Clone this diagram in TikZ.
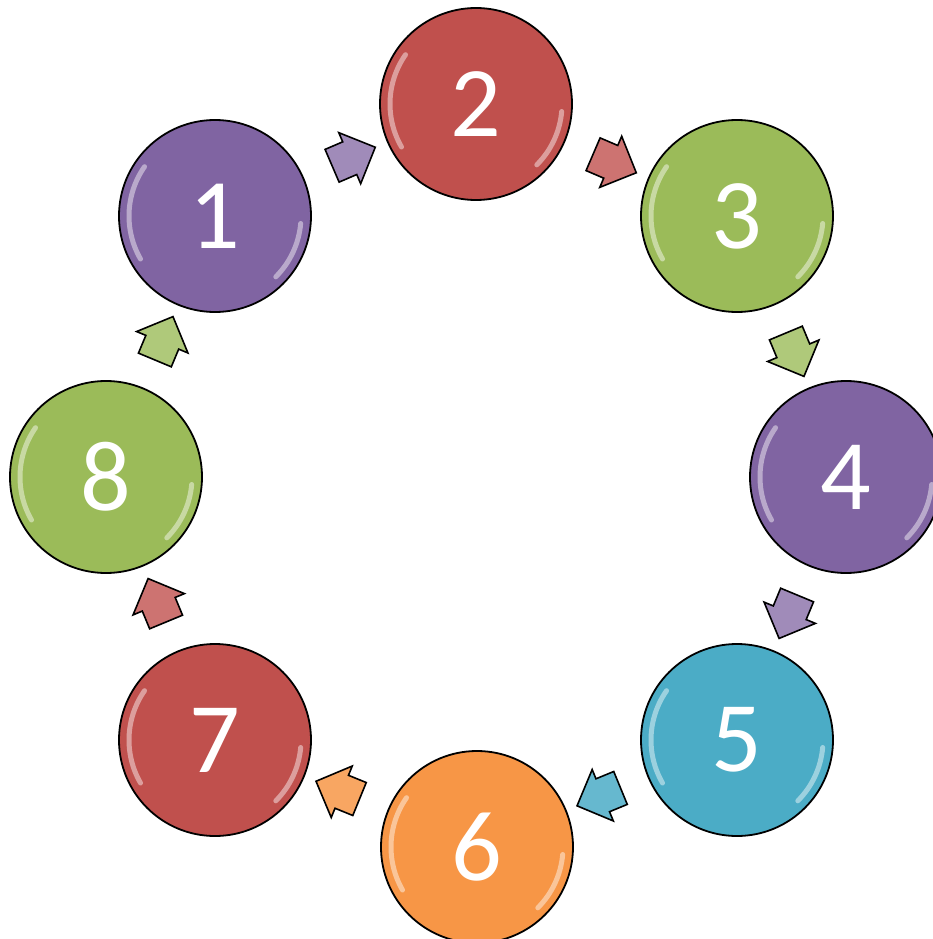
\documentclass[tikz,border=0pt]{standalone}
\usepackage{fontspec}
\setmainfont{Carlito}
\usepackage{xcolor}
\usetikzlibrary{shapes.arrows,calc}

\definecolor{cpurple}{HTML}{8064A2}
\definecolor{cred}{HTML}{C0504D}
\definecolor{cgreen}{HTML}{9BBB59}
\definecolor{cblue}{HTML}{4BACC6}
\definecolor{corange}{HTML}{F79646}

\begin{document}
\begin{tikzpicture}[x=1pt, y=-1pt,
  ball/.style={circle, draw=black, line width=1.8pt, minimum size=192pt, inner sep=0pt, text=white, font=\fontsize{100}{100}\selectfont},
  shine/.style={white, opacity=0.45, line width=5pt, line cap=round},
  flow/.style={single arrow, draw=black, line width=1.6pt, minimum height=47pt, inner xsep=0pt, inner ysep=17pt, single arrow head extend=10pt, sloped, allow upside down}]
  \useasboundingbox (0,0) rectangle (933,939);

  \node [ball, fill=cpurple] (c1) at (215,216) {1};
  \node [ball, fill=cred] (c2) at (476,104) {2};
  \node [ball, fill=cgreen] (c3) at (737,216) {3};
  \node [ball, fill=cpurple] (c4) at (846,477) {4};
  \node [ball, fill=cblue] (c5) at (737,740) {5};
  \node [ball, fill=corange] (c6) at (477,847) {6};
  \node [ball, fill=cred] (c7) at (215,740) {7};
  \node [ball, fill=cgreen] (c8) at (106,477) {8};

  % glossy edges
  \foreach \n in {c1,c2,c3,c4,c5,c6,c7,c8} {
    \draw [shine] ([shift={(150:86)}]\n.center) arc (150:215:86);
    \draw [shine] ([shift={(5:86)}]\n.center) arc (5:45:86);
  }

  \path (c1) -- node [flow, fill=cpurple!75!white] {} (c2);
  \path (c2) -- node [flow, fill=cred!80!white] {} (c3);
  \path (c3) -- node [flow, fill=cgreen!80!white] {} (c4);
  \path (c4) -- node [flow, fill=cpurple!75!white] {} (c5);
  \path (c5) -- node [flow, fill=cblue!85!white] {} (c6);
  \path (c6) -- node [flow, fill=corange!85!white] {} (c7);
  \path (c7) -- node [flow, fill=cred!80!white] {} (c8);
  \path (c8) -- node [flow, fill=cgreen!80!white] {} (c1);
\end{tikzpicture}
\end{document}
